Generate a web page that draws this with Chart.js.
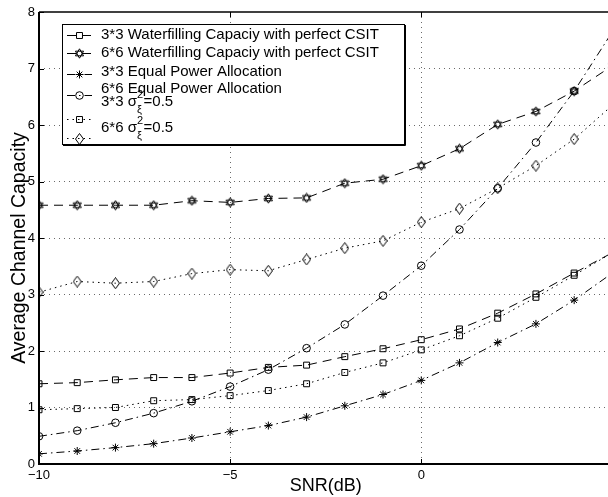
<!DOCTYPE html>
<html>
<head>
<meta charset="utf-8">
<title>Average Channel Capacity vs SNR</title>
<script src="https://cdn.jsdelivr.net/npm/chart.js"></script>
<style>
  html, body { margin: 0; padding: 0; background: #fff; overflow: hidden; }
  #wrap { width: 620px; height: 497px; }
</style>
</head>
<body>
<div id="wrap"><canvas id="capChart" width="620" height="497"></canvas></div>
<script>
"use strict";

// ── Data ──────────────────────────────────────────────────
const snrDb   = [-10, -9, -8, -7, -6, -5, -4, -3, -2, -1, 0, 1, 2, 3, 4, 5];

const wf3x3   = [1.42, 1.44, 1.49, 1.53, 1.53, 1.61, 1.71, 1.75, 1.90, 2.04, 2.20, 2.39, 2.67, 3.01, 3.38, 3.74];
const wf6x6   = [4.58, 4.58, 4.58, 4.58, 4.66, 4.63, 4.70, 4.71, 4.97, 5.04, 5.28, 5.58, 6.01, 6.24, 6.60, 7.05];
const epa3x3  = [0.18, 0.23, 0.29, 0.36, 0.46, 0.57, 0.68, 0.83, 1.03, 1.23, 1.48, 1.79, 2.15, 2.48, 2.90, 3.38];
const epa6x6  = [0.49, 0.59, 0.73, 0.90, 1.11, 1.37, 1.67, 2.05, 2.47, 2.98, 3.51, 4.15, 4.88, 5.69, 6.60, 7.65];
const sig3x3  = [0.96, 0.98, 1.00, 1.12, 1.14, 1.21, 1.30, 1.42, 1.62, 1.79, 2.02, 2.27, 2.58, 2.95, 3.34, 3.74];
const sig6x6  = [3.04, 3.23, 3.20, 3.23, 3.37, 3.44, 3.42, 3.62, 3.82, 3.95, 4.28, 4.52, 4.88, 5.28, 5.75, 6.35];

const seriesNames = [
  "3*3 Waterfilling Capaciy with perfect CSIT",
  "6*6 Waterfilling Capaciy with perfect CSIT",
  "3*3 Equal Power Allocation",
  "6*6 Equal Power Allocation",
  "3*3 σ^2_ξ=0.5",
  "6*6 σ^2_ξ=0.5",
];

const xTicks = [-10, -5, 0, 5];
const yTicks = [0, 1, 2, 3, 4, 5, 6, 7, 8];
const yTitle = "Average Channel Capacity";

// ── Styles ────────────────────────────────────────────────
const FONT = '"Liberation Sans", Arial, Helvetica, sans-serif';
const DASHED  = [9, 6];
const DASHDOT = [8, 4, 1.5, 4];
const DOTTED  = [1.5, 4];

Chart.defaults.font.family = FONT;
Chart.defaults.color = "#000";

// hexagram and tall diamond markers, drawn once on small canvases
function makeHexagram(size) {
  const c = document.createElement("canvas");
  c.width = c.height = size;
  const g = c.getContext("2d");
  const cx = size / 2, cy = size / 2, r = size / 2 - 0.8;
  g.strokeStyle = "#000";
  g.lineWidth = 1;
  [-Math.PI / 2, Math.PI / 2].forEach(start => {
    g.beginPath();
    for (let i = 0; i < 3; i++) {
      const a = start + i * 2 * Math.PI / 3;
      const px = cx + r * Math.cos(a), py = cy + r * Math.sin(a);
      if (i === 0) g.moveTo(px, py); else g.lineTo(px, py);
    }
    g.closePath();
    g.stroke();
  });
  return c;
}

function makeDiamond(w, h) {
  const c = document.createElement("canvas");
  c.width = w; c.height = h;
  const g = c.getContext("2d");
  g.strokeStyle = "#000";
  g.lineWidth = 1;
  g.beginPath();
  g.moveTo(w / 2, 0.5);
  g.lineTo(w - 0.5, h / 2);
  g.lineTo(w / 2, h - 0.5);
  g.lineTo(0.5, h / 2);
  g.closePath();
  g.stroke();
  return c;
}

const hexMarker = makeHexagram(11);
const diaMarker = makeDiamond(9, 12);

function series(label, values, dash, pointStyle, radius) {
  return {
    label,
    data: snrDb.map((x, i) => ({ x, y: values[i] })),
    borderColor: "#000",
    borderWidth: 1,
    borderDash: dash,
    pointStyle,
    pointRadius: radius,
    pointBorderColor: "#000",
    pointBackgroundColor: "rgba(0,0,0,0)",
    pointBorderWidth: 1,
    tension: 0,
    fill: false,
  };
}

const datasets = [
  series(seriesNames[0], wf3x3,  DASHED,  "rect",    4.2),
  series(seriesNames[1], wf6x6,  DASHED,  hexMarker, 5),
  series(seriesNames[2], epa3x3, DASHDOT, "star",    4),
  series(seriesNames[3], epa6x6, DASHDOT, "circle",  3.8),
  series(seriesNames[4], sig3x3, DOTTED,  "rect",    4.2),
  series(seriesNames[5], sig6x6, DOTTED,  diaMarker, 5),
];

// ── Axis frame with inward ticks, plus the y title ────────
const axisFrame = {
  id: "axisFrame",
  afterDatasetsDraw(chart) {
    const { ctx, chartArea: a, scales: { x, y } } = chart;
    ctx.save();
    ctx.strokeStyle = "#000";
    ctx.lineWidth = 2;
    ctx.beginPath();
    ctx.moveTo(a.left, a.top);
    ctx.lineTo(a.left, a.bottom);
    ctx.lineTo(a.right, a.bottom);
    ctx.stroke();

    ctx.lineWidth = 1.5;
    ctx.beginPath();
    ctx.moveTo(a.left, a.top);
    ctx.lineTo(a.right, a.top);
    ctx.stroke();

    ctx.lineWidth = 1;
    ctx.beginPath();
    yTicks.forEach(v => {
      const py = Math.round(y.getPixelForValue(v)) + 0.5;
      ctx.moveTo(a.left, py); ctx.lineTo(a.left + 5, py);
    });
    xTicks.forEach(v => {
      const px = Math.round(x.getPixelForValue(v)) + 0.5;
      ctx.moveTo(px, a.bottom); ctx.lineTo(px, a.bottom - 5);
      ctx.moveTo(px, a.top);    ctx.lineTo(px, a.top + 5);
    });
    ctx.stroke();

    // rotated y-axis title, sits a little below the axis middle
    ctx.translate(20, 248);
    ctx.rotate(-Math.PI / 2);
    ctx.font = "19.5px " + FONT;
    ctx.fillStyle = "#000";
    ctx.textAlign = "center";
    ctx.textBaseline = "middle";
    ctx.fillText(yTitle, 0, 0);
    ctx.restore();
  },
};

// ── Boxed legend (line sample + marker + label) ───────────
function drawMarker(ctx, ds, mx, my) {
  const s = ds.pointStyle, r = ds.pointRadius;
  ctx.setLineDash([]);
  ctx.beginPath();
  if (s instanceof HTMLCanvasElement) {
    ctx.drawImage(s, Math.round(mx - s.width / 2), Math.round(my - s.height / 2));
    return;
  }
  if (s === "rect") {
    const h = r / Math.SQRT2;
    ctx.rect(mx - h, my - h, 2 * h, 2 * h);
  } else if (s === "circle") {
    ctx.arc(mx, my, r, 0, Math.PI * 2);
  } else if (s === "star") {
    for (let k = 0; k < 4; k++) {
      const ang = k * Math.PI / 4;
      ctx.moveTo(mx - r * Math.cos(ang), my - r * Math.sin(ang));
      ctx.lineTo(mx + r * Math.cos(ang), my + r * Math.sin(ang));
    }
  }
  ctx.stroke();
}

function drawLabel(ctx, text, tx, ty) {
  const m = text.match(/^(.*)\^(\S)_(\S)(.*)$/);
  ctx.font = "15px " + FONT;
  if (!m) { ctx.fillText(text, tx, ty); return; }
  ctx.fillText(m[1], tx, ty);
  let cx = tx + ctx.measureText(m[1]).width;
  ctx.font = "11px " + FONT;
  ctx.fillText(m[2], cx, ty - 7);
  ctx.fillText(m[3], cx, ty + 8);
  cx += Math.max(ctx.measureText(m[2]).width, ctx.measureText(m[3]).width) + 0.5;
  ctx.font = "15px " + FONT;
  ctx.fillText(m[4], cx, ty);
}

const boxLegend = {
  id: "boxLegend",
  afterDraw(chart) {
    const ctx = chart.ctx;
    const box = { left: 62, top: 24, right: 404, bottom: 144 };
    const markerY = [35, 53, 74, 95, 119, 138];
    const textY   = [35, 53, 71.5, 89, 102, 128];

    ctx.save();
    ctx.fillStyle = "#fff";
    ctx.fillRect(box.left, box.top, box.right - box.left, box.bottom - box.top);
    ctx.strokeStyle = "#000";
    ctx.lineWidth = 1;
    ctx.strokeRect(box.left + 0.5, box.top + 0.5, box.right - box.left, box.bottom - box.top);
    ctx.beginPath();
    ctx.moveTo(box.right + 1.5, box.top + 1);
    ctx.lineTo(box.right + 1.5, box.bottom + 1.5);
    ctx.lineTo(box.left + 1, box.bottom + 1.5);
    ctx.stroke();

    chart.data.datasets.forEach((ds, i) => {
      const my = markerY[i];
      ctx.strokeStyle = "#000";
      ctx.lineWidth = 1;
      ctx.setLineDash(ds.borderDash);
      ctx.beginPath();
      ctx.moveTo(67, my + 0.5);
      ctx.lineTo(92, my + 0.5);
      ctx.stroke();
      drawMarker(ctx, ds, 79.5, my + 0.5);

      ctx.fillStyle = "#000";
      ctx.textBaseline = "middle";
      ctx.textAlign = "left";
      drawLabel(ctx, ds.label, 101, textY[i]);
    });
    ctx.restore();
  },
};

// ── Chart ─────────────────────────────────────────────────
const gridColor = "#6a6a6a";

new Chart(document.getElementById("capChart"), {
  type: "line",
  data: { datasets },
  plugins: [axisFrame, boxLegend],
  options: {
    responsive: false,
    animation: false,
    devicePixelRatio: 1,
    layout: { padding: { top: 12, right: 6, left: 0, bottom: 0 } },
    plugins: { legend: { display: false }, tooltip: { enabled: false } },
    scales: {
      x: {
        type: "linear",
        min: -10,
        max: 5,
        afterBuildTicks: s => { s.ticks = xTicks.map(v => ({ value: v })); },
        afterFit: s => { s.height = 33; },
        ticks: {
          padding: 4,
          font: { size: 13 },
          callback: v => String(v).replace("-", "\u2212"),
        },
        grid: {
          drawTicks: false,
          lineWidth: 1,
          color: c => (c.tick && (c.tick.value === -10 || c.tick.value === 5)) ? "rgba(0,0,0,0)" : gridColor,
        },
        border: { display: false, dash: [1, 4] },
        title: { display: true, text: "SNR(dB)", font: { size: 18 }, padding: { top: 0, bottom: 0 } },
      },
      y: {
        min: 0,
        max: 8,
        afterBuildTicks: s => { s.ticks = yTicks.map(v => ({ value: v })); },
        afterFit: s => { s.width = 39; },
        ticks: { padding: 4, font: { size: 13 } },
        grid: {
          drawTicks: false,
          lineWidth: 1,
          color: c => (c.tick && (c.tick.value === 0 || c.tick.value === 8)) ? "rgba(0,0,0,0)" : gridColor,
        },
        border: { display: false, dash: [1, 4] },
      },
    },
  },
});
</script>
</body>
</html>
